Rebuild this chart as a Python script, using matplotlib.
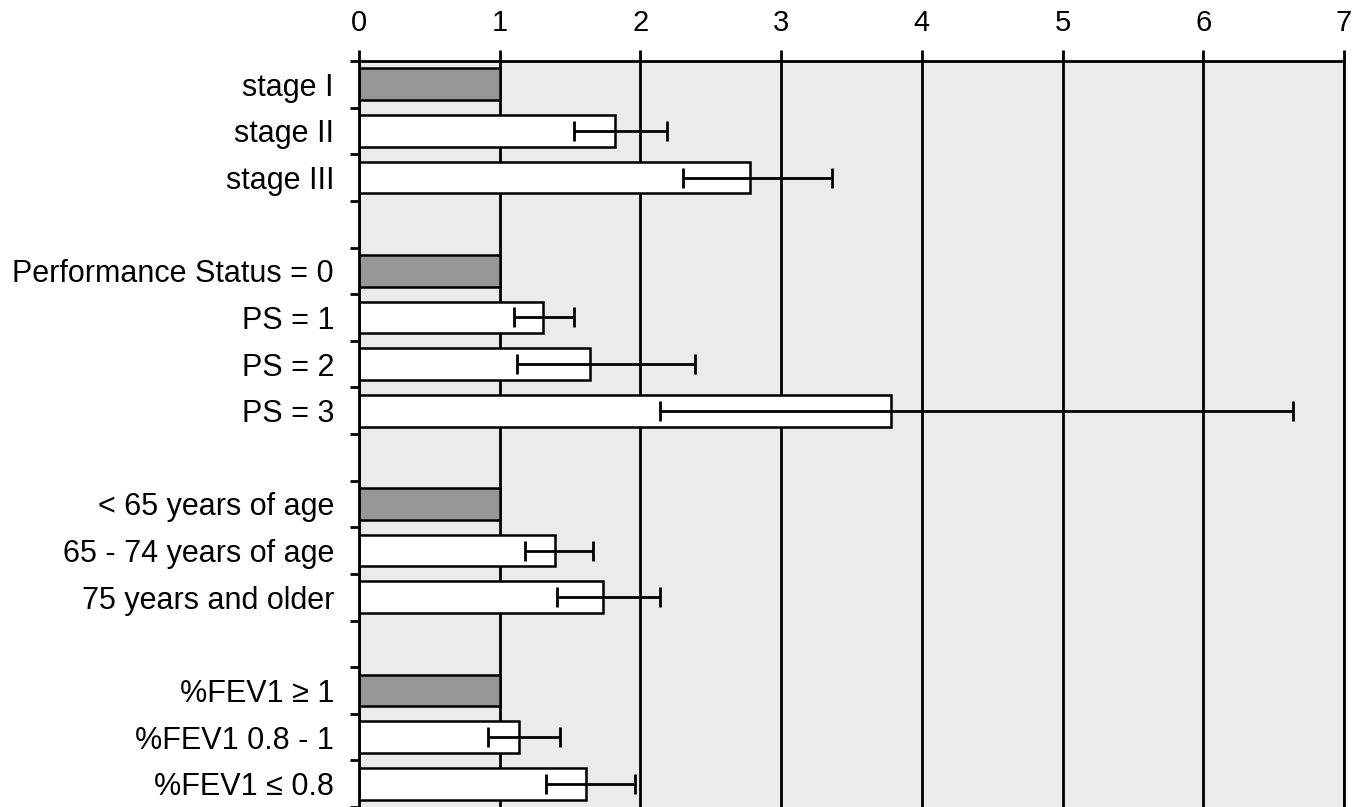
import numpy as np
import matplotlib.pyplot as plt

# rows from top to bottom; empty strings are the gaps between groups
labels = ['stage I', 'stage II', 'stage III', '',
          'Performance Status = 0', 'PS = 1', 'PS = 2', 'PS = 3', '',
          '< 65 years of age', '65 - 74 years of age', '75 years and older', '',
          '%FEV1 \u2265 1', '%FEV1 0.8 - 1', '%FEV1 \u2264 0.8']
ratio = [1.0, 1.82, 2.78, np.nan,
         1.0, 1.31, 1.64, 3.78, np.nan,
         1.0, 1.39, 1.735, np.nan,
         1.0, 1.14, 1.61]
ci_low = [np.nan, 1.53, 2.30, np.nan,
          np.nan, 1.10, 1.12, 2.14, np.nan,
          np.nan, 1.18, 1.41, np.nan,
          np.nan, 0.915, 1.33]
ci_high = [np.nan, 2.19, 3.36, np.nan,
           np.nan, 1.53, 2.39, 6.64, np.nan,
           np.nan, 1.66, 2.14, np.nan,
           np.nan, 1.43, 1.96]
is_reference = [True, False, False, False,
                True, False, False, False, False,
                True, False, False, False,
                True, False, False]

plt.rcParams['font.family'] = ['Liberation Sans', 'DejaVu Sans']

y = np.arange(len(labels))
ratio = np.array(ratio)
lo = np.array(ci_low)
hi = np.array(ci_high)
colors = ['#969696' if r else 'white' for r in is_reference]

fig = plt.figure(figsize=(13.57, 8.07), dpi=100)
ax = fig.add_axes([359 / 1357, 0.0, 985 / 1357, 746 / 807])
ax.set_facecolor('#ebebeb')

ax.barh(y, ratio, height=0.68, color=colors, edgecolor='black', linewidth=1.8, zorder=2)
mask = ~np.isnan(lo)
ax.errorbar(ratio[mask], y[mask], xerr=[ratio[mask] - lo[mask], hi[mask] - ratio[mask]],
            fmt='none', ecolor='black', elinewidth=2.0, capsize=7, capthick=2.0, zorder=3)

ax.set_xlim(0, 7)
ax.set_ylim(len(labels) - 0.5, -0.5)
ax.set_xticks(range(8))
ax.xaxis.tick_top()
ax.tick_params(axis='x', length=8, width=2.0, pad=9, labelsize=21)
ax.grid(axis='x', color='black', linewidth=2.0)
ax.set_axisbelow(True)

# ticks between rows, labels at row centres
ax.set_yticks(np.arange(-0.5, len(labels), 1.0))
ax.set_yticklabels([])
ax.set_yticks(y, minor=True)
ax.set_yticklabels(labels, minor=True)
ax.tick_params(axis='y', which='major', length=6.5, width=2.0, direction='out')
ax.tick_params(axis='y', which='minor', length=0, pad=18, labelsize=22)

for side in ['left', 'top', 'right']:
    ax.spines[side].set_linewidth(2.0)
ax.spines['bottom'].set_visible(False)

fig.savefig('out.png', dpi=100)
